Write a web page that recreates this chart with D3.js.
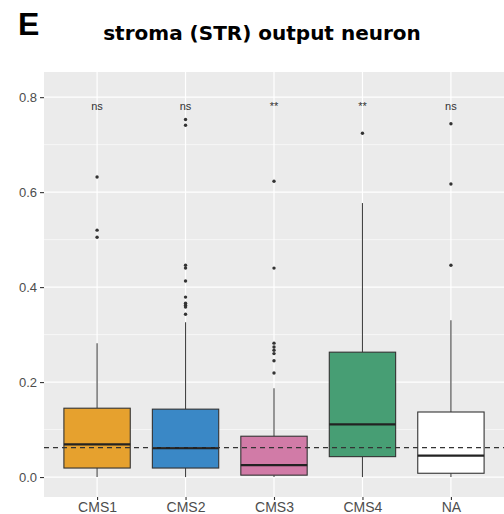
<!DOCTYPE html>
<html>
<head>
<meta charset="utf-8">
<script src="https://cdn.jsdelivr.net/npm/d3@7"></script>
<style>
  html, body { margin: 0; padding: 0; background: #fff; }
  svg { display: block; }
</style>
</head>
<body>
<svg id="chart" width="504" height="514"></svg>
<script>
// ---- data ----
const categories = ["CMS1", "CMS2", "CMS3", "CMS4", "NA"];
const fills = ["#E6A12E", "#3A88C6", "#D17BA7", "#479E74", "#FFFFFF"];
const whiskerLow  = [0.000, 0.000, 0.000, 0.000, 0.000];
const q1          = [0.019, 0.019, 0.004, 0.043, 0.008];
const medians     = [0.069, 0.061, 0.025, 0.111, 0.045];
const q3          = [0.145, 0.143, 0.086, 0.263, 0.137];
const whiskerHigh = [0.282, 0.326, 0.187, 0.577, 0.330];
const outliers = [
  [0.632, 0.520, 0.505],
  [0.753, 0.741, 0.446, 0.440, 0.413, 0.379, 0.366, 0.362, 0.358, 0.343],
  [0.623, 0.440, 0.282, 0.274, 0.267, 0.260, 0.245, 0.219],
  [0.724],
  [0.744, 0.617, 0.446]
];
const signif = ["ns", "ns", "**", "**", "ns"];
const refLine = 0.062;
const yTicks = [0.0, 0.2, 0.4, 0.6, 0.8];
const yMinor = [0.1, 0.3, 0.5, 0.7];
const signifY = 0.78;
const titleText = "stroma (STR) output neuron";
const panelLetter = "E";

// ---- layout ----
const svg = d3.select("#chart");
const panel = {left: 44, right: 504, top: 72, bottom: 497};

const x = d3.scalePoint().domain(categories).range([panel.left, panel.right]).padding(0.6);
const y = d3.scaleLinear().domain([-0.042, 0.853]).range([panel.bottom, panel.top]);
const step = x.step();
const boxW = step * 0.75;

// background
svg.append("rect").attr("x", panel.left).attr("y", panel.top)
  .attr("width", panel.right - panel.left).attr("height", panel.bottom - panel.top)
  .attr("fill", "#EBEBEB");

// grid
const g = svg.append("g");
g.selectAll(".minor").data(yMinor).enter().append("line")
  .attr("x1", panel.left).attr("x2", panel.right)
  .attr("y1", d => y(d)).attr("y2", d => y(d))
  .attr("stroke", "#fff").attr("stroke-width", 0.6);
g.selectAll(".major").data(yTicks).enter().append("line")
  .attr("x1", panel.left).attr("x2", panel.right)
  .attr("y1", d => y(d)).attr("y2", d => y(d))
  .attr("stroke", "#fff").attr("stroke-width", 1.2);
g.selectAll(".vmajor").data(categories).enter().append("line")
  .attr("x1", d => x(d)).attr("x2", d => x(d))
  .attr("y1", panel.top).attr("y2", panel.bottom)
  .attr("stroke", "#fff").attr("stroke-width", 1.2);

// boxes
const data = categories.map((c, i) => ({
  c, fill: fills[i], lo: whiskerLow[i], q1: q1[i], med: medians[i], q3: q3[i], hi: whiskerHigh[i], out: outliers[i], sig: signif[i]
}));
const bx = svg.append("g").selectAll("g").data(data).enter().append("g");
bx.append("line").attr("x1", d => x(d.c)).attr("x2", d => x(d.c))
  .attr("y1", d => y(d.q3)).attr("y2", d => y(d.hi)).attr("stroke", "#444").attr("stroke-width", 1.1);
bx.append("line").attr("x1", d => x(d.c)).attr("x2", d => x(d.c))
  .attr("y1", d => y(d.q1)).attr("y2", d => y(d.lo)).attr("stroke", "#444").attr("stroke-width", 1.1);
bx.append("rect")
  .attr("x", d => x(d.c) - boxW / 2).attr("width", boxW)
  .attr("y", d => y(d.q3)).attr("height", d => y(d.q1) - y(d.q3))
  .attr("fill", d => d.fill).attr("stroke", "#333").attr("stroke-width", 1.1);
bx.append("line").attr("x1", d => x(d.c) - boxW / 2).attr("x2", d => x(d.c) + boxW / 2)
  .attr("y1", d => y(d.med)).attr("y2", d => y(d.med)).attr("stroke", "#222").attr("stroke-width", 2.2);
bx.selectAll("circle").data(d => d.out.map(v => ({c: d.c, v}))).enter().append("circle")
  .attr("cx", d => x(d.c)).attr("cy", d => y(d.v)).attr("r", 1.7).attr("fill", "#333");
bx.append("text").attr("x", d => x(d.c)).attr("y", y(signifY) + 3)
  .attr("text-anchor", "middle").attr("font-family", "Liberation Sans, Arial, sans-serif")
  .attr("font-size", 11).attr("fill", "#333").text(d => d.sig);

// dashed reference line
svg.append("line").attr("x1", panel.left).attr("x2", panel.right)
  .attr("y1", y(refLine)).attr("y2", y(refLine))
  .attr("stroke", "#333").attr("stroke-width", 1.3).attr("stroke-dasharray", "5,4");

// axes
const yAxis = svg.append("g").attr("transform", `translate(${panel.left},0)`)
  .call(d3.axisLeft(y).tickValues(yTicks).tickFormat(d3.format(".1f")).tickSize(4).tickPadding(3));
yAxis.select(".domain").remove();
yAxis.selectAll(".tick line").attr("stroke", "#333").attr("stroke-width", 1.1);
yAxis.selectAll(".tick text").attr("fill", "#4D4D4D").attr("font-size", 13)
  .attr("font-family", "Liberation Sans, Arial, sans-serif");

const xAxis = svg.append("g").attr("transform", `translate(0,${panel.bottom})`)
  .call(d3.axisBottom(x).tickSize(3).tickPadding(2));
xAxis.select(".domain").remove();
xAxis.selectAll(".tick line").attr("stroke", "#333").attr("stroke-width", 1.1);
xAxis.selectAll(".tick text").attr("fill", "#4D4D4D").attr("font-size", 14)
  .attr("font-family", "Liberation Sans, Arial, sans-serif");

// title & panel letter
svg.append("text").attr("x", 262).attr("y", 40).attr("text-anchor", "middle")
  .attr("font-family", "DejaVu Sans, Verdana, sans-serif").attr("font-weight", "bold")
  .attr("font-size", 20).attr("fill", "#000").text(titleText);
svg.append("text").attr("x", 18).attr("y", 35)
  .attr("font-family", "Liberation Sans, Arial, sans-serif").attr("font-weight", "bold")
  .attr("font-size", 32).attr("fill", "#000").text(panelLetter);
</script>
</body>
</html>
